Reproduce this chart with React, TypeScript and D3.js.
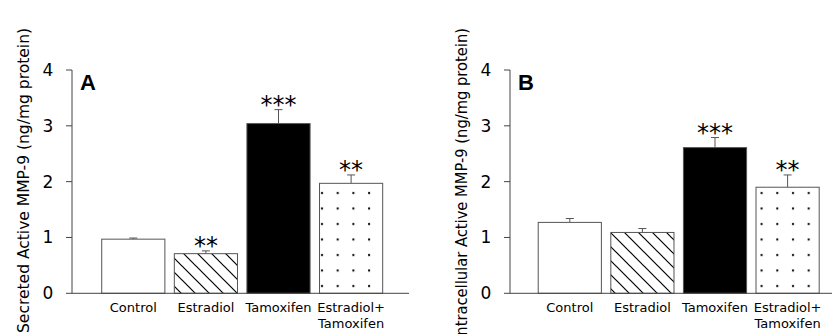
import React from "react";
import * as d3 from "d3";

const categories = ["Control", "Estradiol", "Tamoxifen", "Estradiol+\nTamoxifen"];
const fills = ["white", "url(#hatch)", "black", "url(#dots)"];
const secretedValues = [0.97, 0.71, 3.04, 1.97];
const secretedErrors = [0.02, 0.05, 0.25, 0.15];
const secretedStars = ["", "**", "***", "**"];
const intraValues = [1.27, 1.09, 2.61, 1.9];
const intraErrors = [0.07, 0.07, 0.18, 0.22];
const intraStars = ["", "", "***", "**"];
const yTicks = [0, 1, 2, 3, 4];

const FONT = "'DejaVu Sans', sans-serif";

type PanelProps = {
  x0: number;
  xEnd: number;
  barStart: number;
  values: number[];
  errors: number[];
  stars: string[];
  letter: string;
  title: string;
  titleX: number;
  titleAnchor: "middle" | "end";
  titleY: number;
  titleLen?: number;
};

function Panel(p: PanelProps) {
  const y = d3.scaleLinear().domain([0, 4]).range([293.3, 70]);
  const step = 72.6;
  const x = d3
    .scaleBand<number>()
    .domain(d3.range(categories.length))
    .range([p.barStart, p.barStart + step * categories.length])
    .paddingInner(0.13)
    .paddingOuter(0.065);
  const bw = x.bandwidth();
  return (
    <g>
      {p.values.map((v, i) => {
        const bx = x(i)!;
        const top = y(v);
        const cx = bx + bw / 2;
        const et = y(v + p.errors[i]);
        return (
          <g key={i}>
            <line x1={cx} x2={cx} y1={top} y2={et} stroke="#555" strokeWidth={1} />
            <line x1={cx - 4} x2={cx + 4} y1={et} y2={et} stroke="#555" strokeWidth={1} />
            <rect x={bx} y={top} width={bw} height={y(0) - top} fill={fills[i]} stroke="#555" strokeWidth={1} />
            {p.stars[i] && (
              <text
                x={cx}
                y={et + 3}
                textAnchor="middle"
                fontFamily={FONT}
                fontSize={24}
                fill="black"
              >
                {p.stars[i]}
              </text>
            )}
            {categories[i].split("\n").map((ln, k) => (
              <text
                key={k}
                x={cx}
                y={312 + k * 16}
                textAnchor="middle"
                fontFamily={FONT}
                fontSize={13}
                fill="black"
              >
                {ln}
              </text>
            ))}
          </g>
        );
      })}
      <line x1={p.x0} x2={p.x0} y1={y(4)} y2={y(0)} stroke="#444" strokeWidth={1} />
      <line x1={p.x0} x2={p.xEnd} y1={y(0)} y2={y(0)} stroke="#444" strokeWidth={1} />
      {yTicks.map((t) => (
        <g key={t}>
          <line x1={p.x0 - 6} x2={p.x0} y1={y(t)} y2={y(t)} stroke="#444" strokeWidth={1} />
          <text
            x={p.x0 - 24}
            y={y(t) + 6}
            textAnchor="middle"
            fontFamily={FONT}
            fontSize={17}
            fill="black"
          >
            {t}
          </text>
        </g>
      ))}
      <text x={p.x0 + 8} y={90} fontFamily="'Liberation Sans', Arial, sans-serif" fontWeight="bold" fontSize={22} fill="black">
        {p.letter}
      </text>
      <text
        transform={`translate(${p.titleX},${p.titleY}) rotate(-90)`}
        textAnchor={p.titleAnchor}
        fontFamily={FONT}
        fontSize={15}
        fill="black"
        textLength={p.titleLen}
        lengthAdjust="spacingAndGlyphs"
      >
        {p.title}
      </text>
    </g>
  );
}

export default function App() {
  return (
    <svg
      width={832}
      height={334}
      style={{ position: "absolute", left: 0, top: 0, background: "white" }}
    >
      <defs>
        <pattern id="hatch" patternUnits="userSpaceOnUse" width={14} height={14}>
          <rect width={14} height={14} fill="white" />
          <path d="M-1,-1 L15,15 M-8,6 L1,15 M6,-8 L15,1" stroke="black" strokeWidth={1.2} />
        </pattern>
        <pattern id="dots" patternUnits="userSpaceOnUse" width={15.7} height={15.5} x={3} y={2}>
          <rect width={15.7} height={15.5} fill="white" />
          <rect x={4} y={4} width={2} height={2} fill="black" />
        </pattern>
      </defs>
      <Panel
        x0={72}
        xEnd={409}
        barStart={97}
        values={secretedValues}
        errors={secretedErrors}
        stars={secretedStars}
        letter="A"
        title="Secreted Active MMP-9 (ng/mg protein)"
        titleX={29}
        titleY={180.5}
        titleAnchor="middle"
        titleLen={305}
      />
      <Panel
        x0={510}
        xEnd={832}
        barStart={533.5}
        values={intraValues}
        errors={intraErrors}
        stars={intraStars}
        letter="B"
        title="Intracellular Active MMP-9 (ng/mg protein)"
        titleX={467}
        titleY={28}
        titleAnchor="end"
        titleLen={312}
      />
    </svg>
  );
}
